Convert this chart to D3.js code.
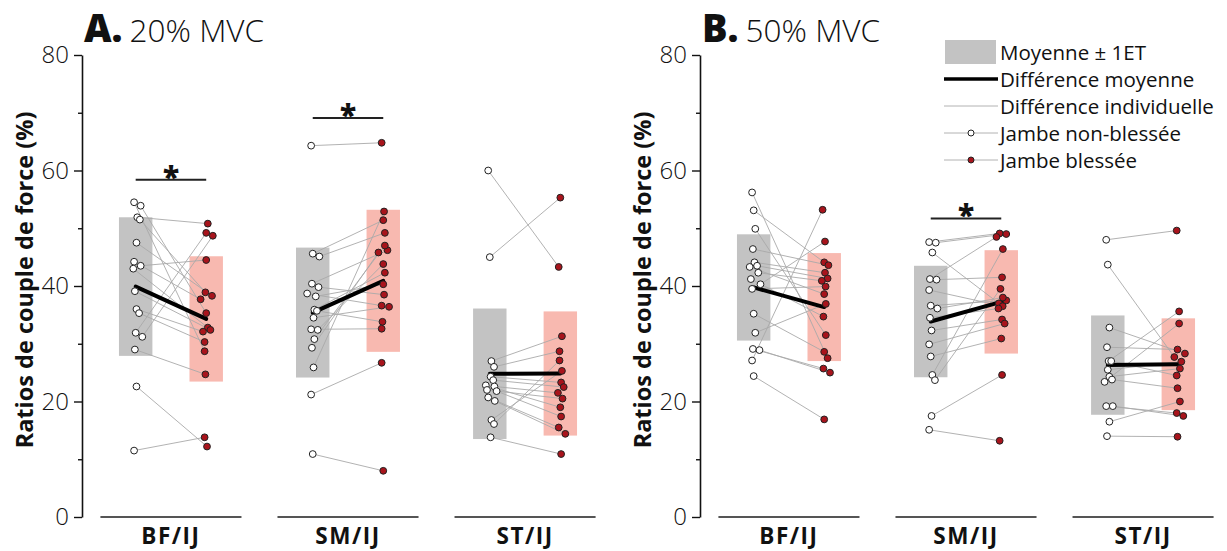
<!DOCTYPE html>
<html><head><meta charset="utf-8">
<script src="https://cdn.jsdelivr.net/npm/d3@7"></script>
<style>
html,body{margin:0;padding:0;background:#fff;}
text{font-family:"Open Sans","Noto Sans",sans-serif;}
</style></head>
<body>
<svg id="chart" width="1227" height="551"></svg>
<script>
// ---------- DATA ----------
const categories = ["BF/IJ", "SM/IJ", "ST/IJ"];
const yTicksMajor = [0, 20, 40, 60, 80];
const yTicksMinor = [10, 30, 50, 70];
const panelTitles = [["A.", "20% MVC"], ["B.", "50% MVC"]];
const yLabel = "Ratios de couple de force (%)";
const legendLabels = ["Moyenne \u00b1 1ET", "Diff\u00e9rence moyenne", "Diff\u00e9rence individuelle", "Jambe non-bless\u00e9e", "Jambe bless\u00e9e"];

// Panel A (20% MVC) - paired individual values (non-injured[i] <-> injured[i])
const a_BF_uninj = [54.5,53.9,51.9,51.5,47.5,44.2,43.5,43.0,39.1,36.0,35.3,31.9,31.2,29.0,22.6,11.5];
const a_BF_inj   = [28.7,35.3,50.8,38.9,38.3,37.7,44.5,32.8,32.4,32.1,30.3,49.2,48.7,24.7,12.2,13.8];
const a_SM_uninj = [64.3,45.6,45.1,40.4,39.8,38.7,38.2,35.9,35.7,34.5,32.5,32.4,30.8,29.3,25.9,21.2,10.9];
const a_SM_inj   = [64.8,51.4,49.2,46.2,38.5,36.6,40.3,42.3,33.8,36.4,32.6,43.8,47.0,45.8,52.9,26.7,8.0];
const a_ST_uninj = [60.0,45.0,27.0,26.0,24.3,23.7,22.8,22.6,22.0,21.8,20.7,20.1,16.8,16.1,13.8];
const a_ST_inj   = [43.3,55.3,31.3,28.7,23.3,22.5,19.0,21.5,20.5,17.4,15.5,14.4,25.3,27.1,10.9];
// Panel A group means and SDs [BF, SM, ST]
const a_mean_uninj = [39.9, 35.4, 24.8];
const a_sd_uninj   = [12.0, 11.25, 11.3];
const a_mean_inj   = [34.3, 40.9, 24.85];
const a_sd_inj     = [10.85, 12.3, 10.75];
// significance bars: [category, level]
const a_sig = [["BF/IJ", 58.4], ["SM/IJ", 69.1]];

// Panel B (50% MVC)
const b_BF_uninj = [56.2,53.1,49.9,46.4,44.1,43.5,43.3,42.3,41.2,40.3,39.5,35.2,31.9,29.1,28.9,27.1,24.4];
const b_BF_inj   = [27.5,44.1,31.5,43.6,42.3,41.3,38.6,40.9,34.7,47.7,39.9,28.6,36.9,25.7,25.0,53.2,16.9];
const b_SM_uninj = [47.6,47.5,45.8,41.2,41.1,39.3,36.6,36.1,34.5,32.3,29.9,27.8,24.6,23.7,17.5,15.1];
const b_SM_inj   = [49.1,49.0,37.0,48.5,41.5,36.5,37.5,38.0,36.1,34.2,33.5,30.9,46.4,39.5,24.6,13.2];
const b_ST_uninj = [48.0,43.7,32.8,29.4,27.0,27.0,25.5,24.3,23.8,23.4,19.2,19.2,16.5,14.0];
const b_ST_inj   = [49.6,27.7,28.3,29.0,35.6,24.5,26.9,25.7,22.3,33.5,18.0,17.5,20.0,13.9];
const b_mean_uninj = [39.75, 33.85, 26.3];
const b_sd_uninj   = [9.2, 9.65, 8.6];
const b_mean_inj   = [36.35, 37.25, 26.45];
const b_sd_inj     = [9.35, 8.95, 7.95];
const b_sig = [["SM/IJ", 51.7]];

// ---------- BUILD ----------
const panels = [
  { title: panelTitles[0], axisX: 82,
    groups: [[a_BF_uninj, a_BF_inj], [a_SM_uninj, a_SM_inj], [a_ST_uninj, a_ST_inj]],
    meanU: a_mean_uninj, sdU: a_sd_uninj, meanI: a_mean_inj, sdI: a_sd_inj, sig: a_sig },
  { title: panelTitles[1], axisX: 700,
    groups: [[b_BF_uninj, b_BF_inj], [b_SM_uninj, b_SM_inj], [b_ST_uninj, b_ST_inj]],
    meanU: b_mean_uninj, sdU: b_sd_uninj, meanI: b_mean_inj, sdI: b_sd_inj, sig: b_sig }
];

const svg = d3.select("#chart");
const y = d3.scaleLinear().domain([0, 80]).range([517, 55]);
const greyFill = "#c3c3c3", redFill = "#f8b9b0", dotRed = "#a8141c";

// deterministic small horizontal dodge for overlapping points
function dodge(vals) {
  const order = vals.map((v, i) => i).sort((a, b) => vals[b] - vals[a]);
  const off = new Array(vals.length).fill(0);
  let prev = null, k = 0;
  const pattern = [0, 5, -4, 3, -2, 6];
  order.forEach(i => {
    if (prev !== null && Math.abs(y(vals[prev]) - y(vals[i])) < 6.5) { k++; } else { k = 0; }
    off[i] = pattern[k % pattern.length] + ((i * 7) % 5 - 2) * 0.8;
    prev = i;
  });
  return off;
}

panels.forEach(p => {
  const g = svg.append("g");
  const x = d3.scaleBand().domain(categories)
    .range([p.axisX, p.axisX + 532]).paddingInner(0.2033).paddingOuter(0.104);
  const bw = x.bandwidth();
  const leg = d3.scalePoint().domain(["u", "i"]).range([bw * 0.25, bw * 0.75]);
  const barW = bw * 0.237;

  // Y axis
  const axMaj = d3.axisLeft(y).tickValues(yTicksMajor).tickSize(8).tickSizeOuter(0).tickPadding(5);
  const axMin = d3.axisLeft(y).tickValues(yTicksMinor).tickSize(4).tickSizeOuter(0).tickFormat("");
  const ga = g.append("g").attr("transform", `translate(${p.axisX},0)`).call(axMaj);
  ga.select(".domain").attr("stroke", "#111").attr("stroke-width", 1.6);
  ga.selectAll(".tick line").attr("stroke", "#111").attr("stroke-width", 1.4);
  ga.selectAll(".tick text").attr("font-size", 24).attr("font-weight", 300)
    .attr("fill", "#111").style("font-family", '"Open Sans", sans-serif');
  const gm = g.append("g").attr("transform", `translate(${p.axisX},0)`).call(axMin);
  gm.select(".domain").remove();
  gm.selectAll(".tick line").attr("stroke", "#111").attr("stroke-width", 1.4);

  // Y label
  g.append("text").attr("transform", `translate(${p.axisX - 58},${(y(0) + y(80)) / 2 - 6}) rotate(-90)`)
    .attr("text-anchor", "middle").attr("dominant-baseline", "central")
    .attr("font-size", 23.5).attr("font-weight", 700).attr("fill", "#111").text(yLabel);

  // Title
  const t = g.append("text").attr("x", p.axisX + 2).attr("y", 42).attr("fill", "#111");
  t.append("tspan").attr("font-size", 38).attr("font-weight", 800).text(p.title[0]);
  t.append("tspan").attr("dx", 7).attr("font-size", 31.5).attr("font-weight", 300).text(p.title[1]);

  // category baseline segments & labels
  categories.forEach(c => {
    g.append("line").attr("x1", x(c)).attr("x2", x(c) + bw).attr("y1", y(0)).attr("y2", y(0))
      .attr("stroke", "#555").attr("stroke-width", 2);
    g.append("text").attr("x", x(c) + bw / 2).attr("y", 544).attr("text-anchor", "middle")
      .attr("font-size", 22.5).attr("font-weight", 700).attr("letter-spacing", 1.5)
      .attr("fill", "#111").text(c);
  });

  // groups
  categories.forEach((c, ci) => {
    const [U, I] = p.groups[ci];
    const xu = x(c) + leg("u"), xi = x(c) + leg("i");
    // bars mean ± SD
    g.append("rect").attr("x", xu - barW / 2).attr("width", barW)
      .attr("y", y(p.meanU[ci] + p.sdU[ci])).attr("height", y(p.meanU[ci] - p.sdU[ci]) - y(p.meanU[ci] + p.sdU[ci]))
      .attr("fill", greyFill);
    g.append("rect").attr("x", xi - barW / 2).attr("width", barW)
      .attr("y", y(p.meanI[ci] + p.sdI[ci])).attr("height", y(p.meanI[ci] - p.sdI[ci]) - y(p.meanI[ci] + p.sdI[ci]))
      .attr("fill", redFill);
    const du = dodge(U), di = dodge(I);
    // individual lines
    U.forEach((v, k) => {
      g.append("line").attr("x1", xu + du[k]).attr("y1", y(v)).attr("x2", xi + di[k]).attr("y2", y(I[k]))
        .attr("stroke", "#a9a9a9").attr("stroke-width", 0.9);
    });
    // mean line
    g.append("line").attr("x1", xu).attr("y1", y(p.meanU[ci])).attr("x2", xi).attr("y2", y(p.meanI[ci]))
      .attr("stroke", "#000").attr("stroke-width", 4).attr("stroke-linecap", "round");
    // points
    U.forEach((v, k) => {
      g.append("circle").attr("cx", xu + du[k]).attr("cy", y(v)).attr("r", 3.4)
        .attr("fill", "#fff").attr("stroke", "#222").attr("stroke-width", 1);
    });
    I.forEach((v, k) => {
      g.append("circle").attr("cx", xi + di[k]).attr("cy", y(v)).attr("r", 3.4)
        .attr("fill", dotRed).attr("stroke", "#222").attr("stroke-width", 1);
    });
  });

  // significance
  p.sig.forEach(([c, lvl]) => {
    const x1 = x(c) + leg("u"), x2 = x(c) + leg("i");
    g.append("line").attr("x1", x1).attr("x2", x2).attr("y1", y(lvl)).attr("y2", y(lvl))
      .attr("stroke", "#222").attr("stroke-width", 2);
    g.append("text").attr("x", (x1 + x2) / 2).attr("y", y(lvl) + 8).attr("text-anchor", "middle")
      .attr("font-size", 30).attr("font-weight", 800).attr("fill", "#111").text("*");
  });
});

// Legend
const lg = svg.append("g");
const lx = 944, lw = 54, tx = 1000;
const rows = [52, 79, 106, 133, 160];
lg.append("rect").attr("x", 945).attr("y", 40).attr("width", 51).attr("height", 24).attr("fill", greyFill);
lg.append("line").attr("x1", lx).attr("x2", lx + lw).attr("y1", rows[1]).attr("y2", rows[1]).attr("stroke", "#000").attr("stroke-width", 3.5);
lg.append("line").attr("x1", lx).attr("x2", lx + lw).attr("y1", rows[2]).attr("y2", rows[2]).attr("stroke", "#a9a9a9").attr("stroke-width", 0.9);
[3, 4].forEach(r => {
  lg.append("line").attr("x1", lx).attr("x2", lx + lw).attr("y1", rows[r]).attr("y2", rows[r]).attr("stroke", "#a9a9a9").attr("stroke-width", 0.9);
  lg.append("circle").attr("cx", lx + lw / 2).attr("cy", rows[r]).attr("r", 3)
    .attr("fill", r === 3 ? "#fff" : dotRed).attr("stroke", "#222").attr("stroke-width", 1);
});
legendLabels.forEach((l, i) => {
  lg.append("text").attr("x", tx).attr("y", rows[i]).attr("dominant-baseline", "central")
    .attr("font-size", 20.5).attr("font-weight", 400).attr("fill", "#111").text(l);
});
</script>
</body></html>
